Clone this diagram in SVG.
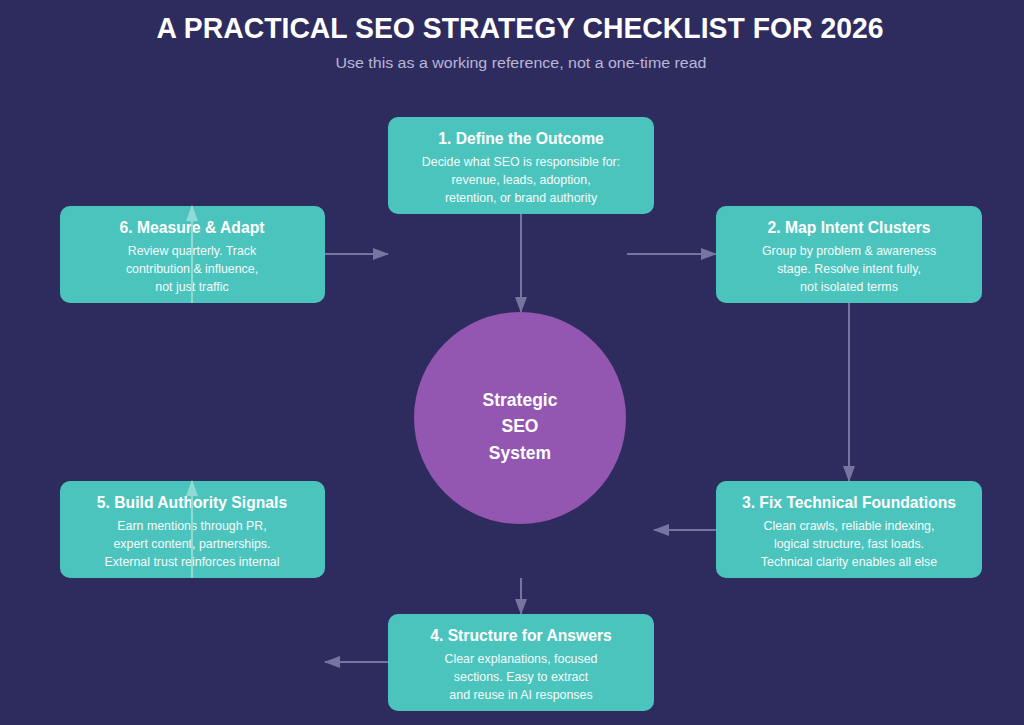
<svg xmlns="http://www.w3.org/2000/svg" width="1024" height="725" viewBox="0 0 1024 725">
<defs>
<style>
.box{fill:#4CC4BE;}
.t{font-family:"Liberation Sans",Arial,sans-serif;font-weight:bold;font-size:15.7px;fill:#fff;text-anchor:middle;}
.ct{font-family:"Liberation Sans",Arial,sans-serif;font-weight:bold;font-size:17.5px;fill:#fff;text-anchor:middle;}
.b{font-family:"Liberation Sans",Arial,sans-serif;font-size:12.4px;fill:#f4fbfa;text-anchor:middle;}
.c{fill:none;stroke:#77749f;stroke-width:2;}
.cl{fill:none;stroke:#93d9d4;stroke-width:2;}
</style>
<marker id="ah" markerUnits="userSpaceOnUse" markerWidth="16" markerHeight="12" refX="15" refY="6" orient="auto">
<path d="M0,0 L16,6 L0,12 Z" fill="#77749f"/>
</marker>
<marker id="ahl" markerUnits="userSpaceOnUse" markerWidth="16" markerHeight="12" refX="15" refY="6" orient="auto">
<path d="M0,0 L16,6 L0,12 Z" fill="#93d9d4"/>
</marker>
</defs>
<rect width="1024" height="725" fill="#2E2C5E"/>
<text x="520" y="38" font-family="Liberation Sans,Arial,sans-serif" font-weight="bold" font-size="30" fill="#fff" text-anchor="middle" textLength="727" lengthAdjust="spacingAndGlyphs">A PRACTICAL SEO STRATEGY CHECKLIST FOR 2026</text>
<text x="521" y="68" font-family="Liberation Sans,Arial,sans-serif" font-size="15.5" fill="#b9b6d9" text-anchor="middle" textLength="371" lengthAdjust="spacingAndGlyphs">Use this as a working reference, not a one-time read</text>

<g id="connectors">
<line class="c" x1="521" y1="214" x2="521" y2="312" marker-end="url(#ah)"/>
<line class="c" x1="325" y1="254" x2="388" y2="254" marker-end="url(#ah)"/>
<line class="c" x1="627" y1="254" x2="716" y2="254" marker-end="url(#ah)"/>
<line class="c" x1="849" y1="303" x2="849" y2="481" marker-end="url(#ah)"/>
<line class="c" x1="716" y1="530" x2="654" y2="530" marker-end="url(#ah)"/>
<line class="c" x1="521" y1="578" x2="521" y2="614" marker-end="url(#ah)"/>
<line class="c" x1="388" y1="662" x2="325" y2="662" marker-end="url(#ah)"/>
</g>

<g id="node1">
<rect class="box" x="388" y="117" width="266" height="97" rx="10"/>
<text class="t" x="521" y="144">1. Define the Outcome</text>
<text class="b" x="521" y="166">Decide what SEO is responsible for:</text>
<text class="b" x="521" y="184">revenue, leads, adoption,</text>
<text class="b" x="521" y="202">retention, or brand authority</text>
</g>
<g id="node2">
<rect class="box" x="716" y="206" width="266" height="97" rx="10"/>
<text class="t" x="849" y="233">2. Map Intent Clusters</text>
<text class="b" x="849" y="255">Group by problem &amp; awareness</text>
<text class="b" x="849" y="273">stage. Resolve intent fully,</text>
<text class="b" x="849" y="291">not isolated terms</text>
</g>
<g id="node3">
<rect class="box" x="716" y="481" width="266" height="97" rx="10"/>
<text class="t" x="849" y="508">3. Fix Technical Foundations</text>
<text class="b" x="849" y="530">Clean crawls, reliable indexing,</text>
<text class="b" x="849" y="548">logical structure, fast loads.</text>
<text class="b" x="849" y="566">Technical clarity enables all else</text>
</g>
<g id="node4">
<rect class="box" x="388" y="614" width="266" height="97" rx="10"/>
<text class="t" x="521" y="641">4. Structure for Answers</text>
<text class="b" x="521" y="663">Clear explanations, focused</text>
<text class="b" x="521" y="681">sections. Easy to extract</text>
<text class="b" x="521" y="699">and reuse in AI responses</text>
</g>
<g id="node5">
<rect class="box" x="60" y="481" width="265" height="97" rx="10"/>
<text class="t" x="192" y="508">5. Build Authority Signals</text>
<text class="b" x="192" y="530">Earn mentions through PR,</text>
<text class="b" x="192" y="548">expert content, partnerships.</text>
<text class="b" x="192" y="566">External trust reinforces internal</text>
</g>
<g id="node6">
<rect class="box" x="60" y="206" width="265" height="97" rx="10"/>
<text class="t" x="192" y="233">6. Measure &amp; Adapt</text>
<text class="b" x="192" y="255">Review quarterly. Track</text>
<text class="b" x="192" y="273">contribution &amp; influence,</text>
<text class="b" x="192" y="291">not just traffic</text>
</g>
<g id="center">
<circle cx="520" cy="418" r="106" fill="#9457B1"/>
<text class="ct" x="520" y="406">Strategic</text>
<text class="ct" x="520" y="432">SEO</text>
<text class="ct" x="520" y="459">System</text>
</g>
<g id="connectors-overlay">
<line class="cl" x1="192" y1="578" x2="192" y2="481" marker-end="url(#ahl)"/>
<line class="cl" x1="192" y1="303" x2="192" y2="206" marker-end="url(#ahl)"/>
</g>
</svg>
